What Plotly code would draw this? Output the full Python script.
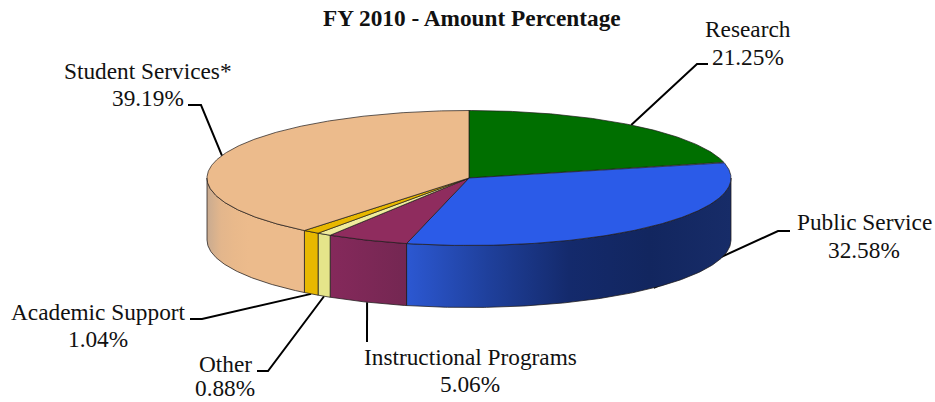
import numpy as np
import plotly.graph_objects as go

# clockwise from 12 o'clock
names = ["Research", "Public Service", "Instructional Programs", "Other", "Academic Support", "Student Services*"]
pct = [21.25, 32.58, 5.06, 0.88, 1.04, 39.19]
top_colors = ["#006f00", "#2b5be8", "#8f2c5e", "#f0ec9c", "#e8b800", "#ecbb8c"]
wall_stops = [
    ["#006f00", "#006f00"],
    ["#2c58d2", "#1f409c", "#142a6c", "#12265f", "#172c68"],
    ["#85295b", "#742752"],
    ["#e5e58a", "#e5e58a"],
    ["#e8b800", "#e8b800"],
    ["#c9ab90", "#e3b68c", "#e9b98b", "#ecbb8c", "#ecbb8c", "#ecbb8c", "#ecbb8c", "#ecbb8c"],
]

# pie geometry in pixels
cx, cy, rx, ry, depth = 469, 178, 262, 67.5, 62

# leader elbows, from the slice midpoint out to the label
elbows = [
    [(697, 64), (708, 64)],
    [(778, 231), (790, 231)],
    [(367, 342)],
    [(268, 371), (257, 371)],
    [(202, 319), (190, 319)],
    [(201, 105), (188, 105)],
]

labels = [
    ("Research", 748, 29), ("21.25%", 748, 57),
    ("Public Service", 864, 222), ("32.58%", 864, 250),
    ("Instructional Programs", 470, 357), ("5.06%", 470, 384),
    ("Other", 225, 364), ("0.88%", 225, 388),
    ("Academic Support", 98, 312), ("1.04%", 98, 339),
    ("Student Services*", 148, 71), ("39.19%", 148, 98),
]

def arc(a0, a1, dy=0):
    t = np.radians(np.linspace(a0, a1, max(int(abs(a1 - a0) * 2), 4)))
    return cx + rx * np.sin(t), cy - ry * np.cos(t) + dy

fig = go.Figure()

edges = np.cumsum([0] + pct) * 3.6
edges = edges / edges[-1] * 360

# leader lines go underneath the pie
for i, name in enumerate(names):
    mid = (edges[i] + edges[i + 1]) / 2
    front = 90 <= mid <= 270
    x0, y0 = arc(mid, mid, depth if front else 0)
    xs = [x0[0]] + [p[0] for p in elbows[i]]
    ys = [y0[0]] + [p[1] for p in elbows[i]]
    fig.add_trace(go.Scatter(x=xs, y=ys, mode="lines", line=dict(color="black", width=2)))

# side walls
for i, name in enumerate(names):
    a0, a1 = max(edges[i], 90), min(edges[i + 1], 270)
    if a1 <= a0:
        continue
    xt, yt = arc(a0, a1)
    xb, yb = arc(a0, a1, depth)
    stops = wall_stops[i]
    scale = [[k / (len(stops) - 1), c] for k, c in enumerate(stops)]
    fig.add_trace(go.Scatter(
        x=np.r_[xt, xb[::-1], xt[0]], y=np.r_[yt, yb[::-1], yt[0]],
        mode="lines", fill="toself",
        fillgradient=dict(type="horizontal", colorscale=scale),
        line=dict(color="rgba(30,25,25,0.75)", width=1)))

# top faces
for i, name in enumerate(names):
    xa, ya = arc(edges[i], edges[i + 1])
    fig.add_trace(go.Scatter(
        x=np.r_[cx, xa, cx], y=np.r_[cy, ya, cy],
        mode="lines", fill="toself", fillcolor=top_colors[i],
        line=dict(color="rgba(30,25,25,0.7)", width=1)))

annotations = [dict(x=x, y=y, text=t, showarrow=False, xanchor="center", yanchor="middle",
                    font=dict(family="Liberation Serif", size=23.3, color="#111111"))
               for t, x, y in labels]
annotations.append(dict(x=472, y=18, text="<b>FY 2010 - Amount Percentage</b>", showarrow=False,
                        font=dict(family="Liberation Serif", size=23.3, color="#111111")))

fig.update_layout(
    width=935, height=402, margin=dict(l=0, r=0, t=0, b=0),
    paper_bgcolor="white", plot_bgcolor="white", showlegend=False,
    xaxis=dict(range=[0, 935], visible=False, fixedrange=True),
    yaxis=dict(range=[402, 0], visible=False, fixedrange=True),
    annotations=annotations,
)

fig.write_html("out.html", config={"displayModeBar": False}, post_script="document.body.style.margin='0';")
